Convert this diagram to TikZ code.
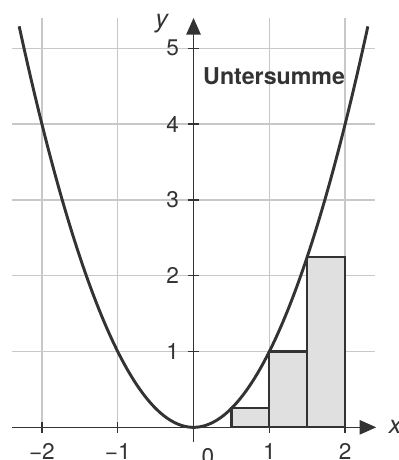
\documentclass[tikz,border=0pt]{standalone}
\usepackage{fontspec}
\setmainfont{TeX Gyre Heros}
\usetikzlibrary{arrows.meta}
\definecolor{plotdark}{RGB}{51,51,51}
\definecolor{plotgrid}{RGB}{200,200,200}
\definecolor{plotfill}{RGB}{224,224,224}
\tikzset{
    gridline/.style={draw=plotgrid, line width=0.5pt},
    axisline/.style={-{Triangle[length=0.22cm, width=0.19cm]}, draw=plotdark, line width=0.6pt},
    tickline/.style={draw=plotdark, line width=0.5pt},
    curveline/.style={draw=plotdark, line width=1.1pt},
    barbox/.style={draw=plotdark, fill=plotfill, line width=0.8pt},
    ticklbl/.style={font=\fontsize{8.5}{10}\selectfont, text=plotdark, inner sep=1pt},
    axislbl/.style={font=\fontsize{9.5}{11}\selectfont\itshape, text=plotdark, inner sep=0pt},
    titlelbl/.style={font=\fontsize{8.7}{10}\selectfont\bfseries, text=plotdark, anchor=base west, inner sep=0pt}
}
\begin{document}
\begin{tikzpicture}
    \useasboundingbox (-2.553,-0.431) rectangle (2.698,5.637);
    % grid
    \foreach \k in {-2,-1,1,2}
        \draw[gridline] (\k,0) -- (\k,5.4);
    \foreach \k in {1,...,5}
        \draw[gridline] (-2.4,\k) -- (2.4,\k);
    % lower sum
    \draw[barbox] (0.5,0) rectangle (1,0.25);
    \draw[barbox] (1,0) rectangle (1.5,1);
    \draw[barbox] (1.5,0) rectangle (2,2.25);
    % axes
    \coordinate (xstart) at (-2.4,0);
    \coordinate (xend) at (2.41,0);
    \coordinate (ystart) at (0,-0.2);
    \coordinate (yend) at (0,5.4);
    \draw[axisline] (xstart) -- (xend);
    \draw[axisline] (ystart) -- (yend);
    \foreach \k in {-2,-1,1,2}
        \draw[tickline] (\k,-0.075) -- (\k,0.075);
    \foreach \k in {1,...,5}
        \draw[tickline] (-0.075,\k) -- (0.075,\k);
    \foreach \k in {-2,-1,1,2}
        \node[ticklbl, anchor=north] (xl\k) at (\k,-0.165) {\ifnum\k<0 −\the\numexpr-\k\relax\else\k\fi};
    \node[ticklbl, anchor=north] (xl0) at (0.19,-0.235) {0};
    \foreach \k in {1,...,5}
        \node[ticklbl, anchor=east] (yl\k) at (-0.15,\k) {\k};
    \node[axislbl] (xlab) at (2.66,0) {x};
    \node[axislbl] (ylab) at (-0.42,5.33) {y};
    % parabola
    \draw[curveline] plot[domain=-2.3:2.3, samples=100, smooth] (\x,{\x*\x});
    \node[titlelbl] (title) at (0.12,4.525) {Untersumme};
\end{tikzpicture}
\end{document}
